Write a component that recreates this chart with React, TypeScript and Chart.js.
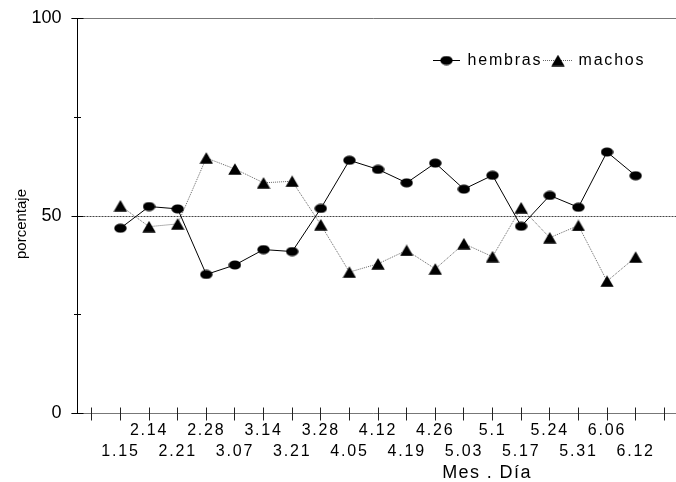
import React, { useEffect, useRef } from 'react';
import { Chart, registerables } from 'chart.js';

Chart.register(...registerables);

const fechas = ['1.15', '2.14', '2.21', '2.28', '3.07', '3.14', '3.21', '3.28', '4.05', '4.12', '4.19', '4.26', '5.03', '5.1', '5.17', '5.24', '5.31', '6.06', '6.12'];
const hembras = [46.9, 52.4, 51.8, 35.2, 37.6, 41.5, 41.0, 51.9, 64.1, 61.8, 58.4, 63.4, 56.8, 60.3, 47.4, 55.2, 52.2, 66.2, 60.2];
const machos = [52.6, 47.3, 48.0, 64.7, 61.9, 58.4, 58.8, 47.8, 35.8, 37.9, 41.3, 36.6, 43.0, 39.7, 52.1, 44.5, 47.6, 33.5, 39.6];
const yMajor = [0, 50, 100];
const yMinor = [25, 75];
const referencia = 50;

const FONT = "'Liberation Sans', Arial, sans-serif";

function makeEllipse(): HTMLCanvasElement {
  const c = document.createElement('canvas');
  c.width = 13;
  c.height = 10;
  const g = c.getContext('2d')!;
  g.fillStyle = '#000';
  g.beginPath();
  g.ellipse(6.5, 5, 6.2, 4.6, 0, 0, Math.PI * 2);
  g.fill();
  return c;
}

function makeTriangle(): HTMLCanvasElement {
  const c = document.createElement('canvas');
  c.width = 14;
  c.height = 12;
  const g = c.getContext('2d')!;
  g.fillStyle = '#000';
  g.beginPath();
  g.moveTo(7, 0.3);
  g.lineTo(13.7, 11.7);
  g.lineTo(0.3, 11.7);
  g.closePath();
  g.fill();
  return c;
}

const snap = (v: number) => Math.floor(v) + 0.5;

export default function App() {
  const ref = useRef<HTMLCanvasElement | null>(null);

  useEffect(() => {
    if (!ref.current) return;
    const ellipse = makeEllipse();
    const triangle = makeTriangle();

    const decor = {
      id: 'decor',
      beforeDraw(chart: any) {
        const xs: any = chart.scales.x;
        if (!xs.__ls) {
          const orig = xs.drawLabels;
          xs.drawLabels = function (ca: any) {
            const c = this.ctx;
            c.save();
            c.letterSpacing = '1.8px';
            orig.call(this, ca);
            c.restore();
          };
          xs.__ls = true;
        }
      },
      beforeDatasetsDraw(chart: any) {
        const { ctx, chartArea: a, scales } = chart;
        const x = scales.x;
        const y = scales.y;
        const left = snap(a.left);
        const right = chart.width;
        const yTop = snap(y.getPixelForValue(100));
        const yBot = snap(y.getPixelForValue(0));
        ctx.save();
        ctx.lineWidth = 1;
        // gray top and bottom lines
        ctx.strokeStyle = '#777777';
        ctx.beginPath();
        ctx.moveTo(left - 6, yTop);
        ctx.lineTo(right, yTop);
        ctx.stroke();
        ctx.beginPath();
        ctx.moveTo(left - 6, yBot);
        ctx.lineTo(right, yBot);
        ctx.stroke();
        // reference dotted line
        const yr = snap(y.getPixelForValue(referencia));
        ctx.strokeStyle = '#444';
        ctx.setLineDash([2, 1]);
        ctx.beginPath();
        ctx.moveTo(left, yr);
        ctx.lineTo(right, yr);
        ctx.stroke();
        ctx.setLineDash([]);
        // left axis
        ctx.strokeStyle = '#000';
        ctx.beginPath();
        ctx.moveTo(left, yTop);
        ctx.lineTo(left, yBot);
        ctx.stroke();
        // y ticks
        ctx.beginPath();
        yMajor.forEach((v) => {
          const py = snap(y.getPixelForValue(v));
          ctx.moveTo(left - 6, py);
          ctx.lineTo(left + 6, py);
        });
        yMinor.forEach((v) => {
          const py = snap(y.getPixelForValue(v));
          ctx.moveTo(left - 3.5, py);
          ctx.lineTo(left + 3.5, py);
        });
        ctx.stroke();
        // x ticks
        ctx.strokeStyle = '#222';
        ctx.beginPath();
        for (let k = 0; k <= fechas.length + 1; k++) {
          const px = snap(x.getPixelForValue(k));
          ctx.moveTo(px, yBot - 6);
          ctx.lineTo(px, yBot + 7);
        }
        ctx.stroke();
        ctx.restore();
      },
      afterDraw(chart: any) {
        const { ctx, chartArea: a } = chart;
        ctx.save();
        // y title
        ctx.font = `15px ${FONT}`;
        ctx.fillStyle = '#000';
        ctx.textAlign = 'center';
        ctx.textBaseline = 'middle';
        ctx.save();
        ctx.translate(22, (a.top + a.bottom) / 2 + 8);
        ctx.rotate(-Math.PI / 2);
        ctx.fillText('porcentaje', 0, 0);
        ctx.restore();
        // x title
        ctx.letterSpacing = '1.4px';
        ctx.font = `18px ${FONT}`;
        ctx.fillText('Mes . Día', 487, 473);
        // legend
        const ly = 60.5;
        ctx.strokeStyle = '#000';
        ctx.lineWidth = 1;
        ctx.beginPath();
        ctx.moveTo(433, ly);
        ctx.lineTo(460, ly);
        ctx.stroke();
        ctx.drawImage(ellipse, 446.5 - ellipse.width / 2, ly - ellipse.height / 2);
        ctx.strokeStyle = '#666';
        ctx.setLineDash([1, 1]);
        ctx.beginPath();
        ctx.moveTo(543, ly);
        ctx.lineTo(572, ly);
        ctx.stroke();
        ctx.setLineDash([]);
        ctx.drawImage(triangle, 558 - triangle.width / 2, ly - triangle.height / 2);
        ctx.letterSpacing = '1.8px';
        ctx.font = `16px ${FONT}`;
        ctx.textAlign = 'left';
        ctx.fillText('hembras', 467.5, ly);
        ctx.fillText('machos', 578.5, ly);
        ctx.restore();
      },
    };

    const chart = new Chart(ref.current, {
      type: 'line',
      data: {
        datasets: [
          {
            label: 'hembras',
            data: hembras.map((v, i) => ({ x: i + 1, y: v })),
            borderColor: '#000',
            borderWidth: 1,
            pointStyle: ellipse as any,
            pointRadius: 5,
            tension: 0,
            clip: false as any,
          },
          {
            label: 'machos',
            data: machos.map((v, i) => ({ x: i + 1, y: v })),
            borderColor: '#666',
            borderWidth: 1,
            borderDash: [1, 1],
            pointStyle: triangle as any,
            pointRadius: 5,
            tension: 0,
            clip: false as any,
          },
        ],
      },
      options: {
        animation: false,
        responsive: false,
        devicePixelRatio: 1,
        layout: { padding: { top: 18.5, left: 0, right: 0, bottom: 0 } },
        plugins: { legend: { display: false }, tooltip: { enabled: false } },
        scales: {
          x: {
            type: 'linear',
            min: -0.5,
            max: 20.2,
            afterFit: (s: any) => {
              s.height = 68.5;
              s.paddingLeft = 0;
              s.paddingRight = 0;
              s.paddingTop = 0;
              s.paddingBottom = 0;
            },
            afterBuildTicks: (s: any) => {
              s.ticks = Array.from({ length: fechas.length + 2 }, (_, k) => ({ value: k }));
            },
            grid: { display: false, drawTicks: false },
            border: { display: false },
            ticks: {
              autoSkip: false,
              maxRotation: 0,
              minRotation: 0,
              padding: 7,
              color: '#000',
              font: { family: FONT, size: 16, lineHeight: 1.3 },
              callback: (value: any) => {
                const i = Number(value) - 1;
                if (i < 0 || i >= fechas.length) return '';
                return i % 2 === 1 ? fechas[i] : ['', fechas[i]];
              },
            },
          },
          y: {
            type: 'linear',
            min: 0,
            max: 100,
            afterFit: (s: any) => {
              s.width = 77.5;
              s.paddingTop = 0;
              s.paddingBottom = 0;
              s.paddingLeft = 0;
              s.paddingRight = 0;
            },
            afterBuildTicks: (s: any) => {
              s.ticks = yMajor.map((v) => ({ value: v }));
            },
            grid: { display: false, drawTicks: false },
            border: { display: false },
            ticks: {
              padding: 16,
              color: '#000',
              font: { family: FONT, size: 18 },
            },
          },
        },
      },
      plugins: [decor],
    });
    return () => chart.destroy();
  }, []);

  return (
    <div style={{ position: 'fixed', left: 0, top: 0, width: 676, height: 482, background: '#fff' }}>
      <canvas ref={ref} width={676} height={482} style={{ display: 'block' }} />
    </div>
  );
}
